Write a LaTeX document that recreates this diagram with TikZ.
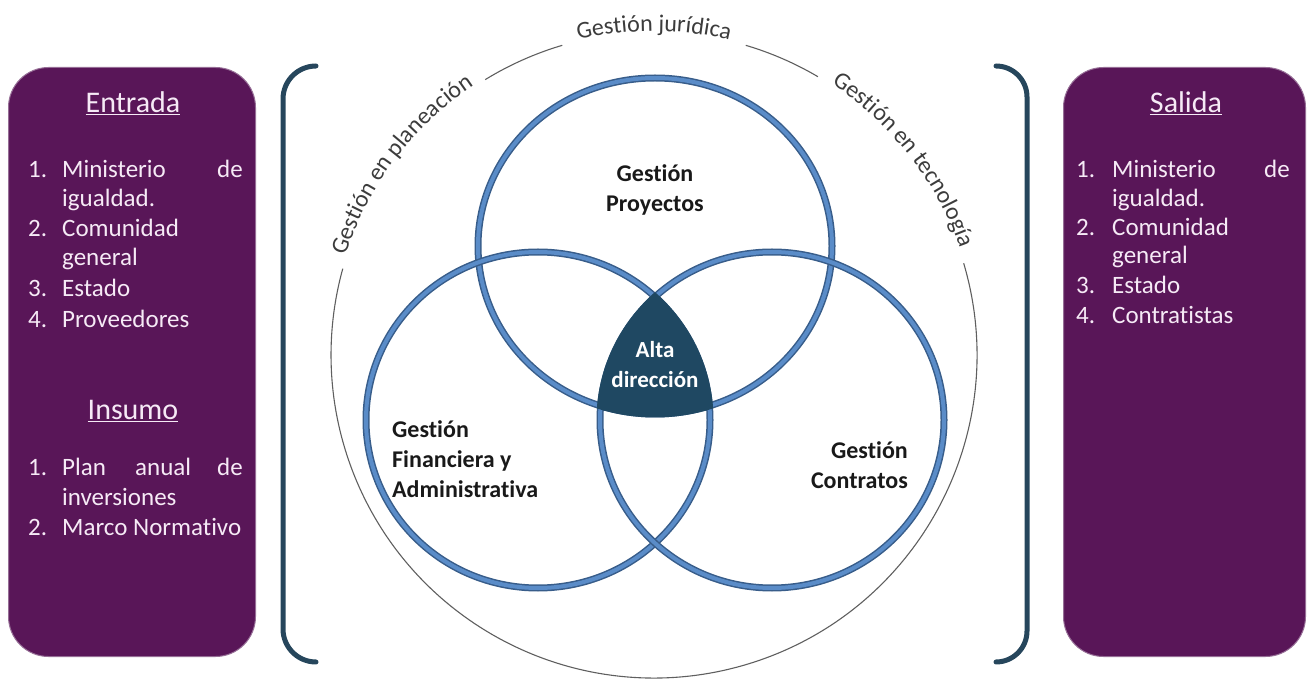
\documentclass[tikz,border=0pt]{standalone}
\usepackage{fontspec}
\setmainfont{Carlito}[Ligatures=NoCommon]
\usetikzlibrary{decorations.text}
\definecolor{boxpurple}{RGB}{89,22,88}
\definecolor{boxedge}{RGB}{150,110,150}
\definecolor{boxtext}{RGB}{246,234,246}
\definecolor{brk}{RGB}{38,70,92}
\definecolor{venndark}{RGB}{56,93,138}
\definecolor{vennblue}{RGB}{90,140,200}
\definecolor{core}{RGB}{31,72,98}
\definecolor{arcgray}{RGB}{60,60,60}
\definecolor{linegray}{RGB}{95,95,95}
\newcommand{\arcfnt}{\fontsize{24}{28}\selectfont}
\begin{document}
\begin{tikzpicture}[x=1pt,y=1pt,
  panel/.style={draw=boxedge, line width=1, fill=boxpurple, rounded corners=40, anchor=south west, inner sep=0},
  head/.style={font=\fontsize{30}{36}\selectfont, text=boxtext, anchor=base, inner sep=0},
  item/.style={font=\fontsize{25}{30}\selectfont, text=boxtext, anchor=base west, inner sep=0},
  itemr/.style={font=\fontsize{25}{30}\selectfont, text=boxtext, anchor=base east, inner sep=0},
  bracketline/.style={draw=brk, line width=5, line cap=round},
  thinarc/.style={draw=linegray, line width=1.1},
  vennout/.style={draw=venndark, line width=7},
  vennin/.style={draw=vennblue, line width=4},
  vlabel/.style={font=\bfseries\fontsize{24}{30}\selectfont, text=black!90, inner sep=0},
  arctext/.style={decorate, decoration={text along path, text align=center, text color=arcgray, text={|\arcfnt|#1}}}
]
\useasboundingbox (0,0) rectangle (1312,694);

% side panels
\node[panel, minimum width=247, minimum height=589] (lbox) at (8,37) {};
\node[panel, minimum width=242, minimum height=589] (rbox) at (1063,37) {};

% left panel texts
\node[head] (hent) at (133,581) {\underline{Entrada}};
\node[item] (l1n) at (28,516) {1.};
\node[item] (l1a) at (62,516) {Ministerio};
\node[itemr] (l1b) at (243,516) {de};
\node[item] (l1c) at (62,487) {igualdad.};
\node[item] (l2n) at (28,457) {2.};
\node[item] (l2a) at (62,457) {Comunidad};
\node[item] (l2b) at (62,428) {general};
\node[item] (l3n) at (28,397) {3.};
\node[item] (l3a) at (62,397) {Estado};
\node[item] (l4n) at (28,366) {4.};
\node[item] (l4a) at (62,366) {Proveedores};

\node[head] (hins) at (133,274) {\underline{Insumo}};
\node[item] (i1n) at (28,218) {1.};
\node[item] (i1a) at (62,218) {Plan};
\node[item] (i1b) at (135,218) {anual};
\node[itemr] (i1c) at (243,218) {de};
\node[item] (i1d) at (62,189) {inversiones};
\node[item] (i2n) at (28,158) {2.};
\node[item] (i2a) at (62,158) {Marco Normativo};

% right panel texts
\node[head] (hsal) at (1186,581) {\underline{Salida}};
\node[item] (r1n) at (1076,516) {1.};
\node[item] (r1a) at (1112,516) {Ministerio};
\node[itemr] (r1b) at (1290,516) {de};
\node[item] (r1c) at (1112,487) {igualdad.};
\node[item] (r2n) at (1076,458) {2.};
\node[item] (r2a) at (1112,458) {Comunidad};
\node[item] (r2b) at (1112,430) {general};
\node[item] (r3n) at (1076,400) {3.};
\node[item] (r3a) at (1112,400) {Estado};
\node[item] (r4n) at (1076,370) {4.};
\node[item] (r4a) at (1112,370) {Contratistas};

% brackets
\draw[bracketline] (316,628) arc[start angle=90, end angle=180, radius=33] -- (283,65) arc[start angle=180, end angle=270, radius=33];
\draw[bracketline] (996,628) arc[start angle=90, end angle=0, radius=31] -- (1027,63) arc[start angle=0, end angle=-90, radius=31];

% outer thin circle with gaps for the labels
\coordinate (oc) at (654,339);
\draw[thinarc] (oc) ++(121.5:323) arc[start angle=121.5, end angle=106.5, radius=323];
\draw[thinarc] (oc) ++(73.5:323) arc[start angle=73.5, end angle=59.5, radius=323];
\draw[thinarc] (oc) ++(16.5:323) arc[start angle=16.5, end angle=-195.5, radius=323];
\path[arctext={Gestión en planeación}] (oc) ++(167:324) arc[start angle=167, end angle=119, radius=324];
\path[arctext={Gestión jurídica}] (oc) ++(110:324) arc[start angle=110, end angle=70, radius=324];
\path[arctext={Gestión en tecnología}] (oc) ++(62:324) arc[start angle=62, end angle=14, radius=324];

% Venn circles
\coordinate (ct) at (655,448);
\coordinate (cl) at (538,274);
\coordinate (cr) at (772,274);
\foreach \c/\rx in {ct/177, cl/172, cr/172}{
  \draw[vennout] (\c) ellipse[x radius=\rx, y radius=168];
  \draw[vennin] (\c) ellipse[x radius=\rx, y radius=168];
}
\begin{scope}
  \clip (cl) ellipse[x radius=175.5, y radius=171.5];
  \clip (cr) ellipse[x radius=175.5, y radius=171.5];
  \fill[core] (ct) ellipse[x radius=180.5, y radius=171.5];
\end{scope}

% labels
\node[vlabel, align=center] (proy) at (655,504) {Gestión\\Proyectos};
\node[vlabel, align=left, anchor=west] (fin) at (392,235) {Gestión\\Financiera y\\Administrativa};
\node[vlabel, align=right, anchor=east] (con) at (908,229) {Gestión\\Contratos};
\node[vlabel, align=center, text=white, font=\bfseries\fontsize{23}{30}\selectfont] (alta) at (655,329) {Alta\\dirección};
\end{tikzpicture}
\end{document}
